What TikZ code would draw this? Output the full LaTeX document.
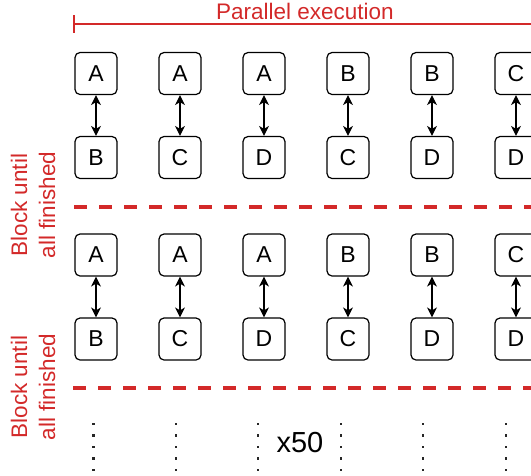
\documentclass[tikz,border=0pt]{standalone}
\usepackage{fontspec}
\setmainfont{Liberation Sans}
\usetikzlibrary{arrows.meta}
\definecolor{myred}{RGB}{211,41,41}
\begin{document}
\begin{tikzpicture}[x=1pt,y=-1pt,
  box/.style={draw=black, line width=1.2pt, rounded corners=5pt, minimum width=42pt, minimum height=42pt, inner sep=0pt, font=\fontsize{23}{27}\selectfont},
  link/.style={line width=1.2pt, {Stealth[length=10pt,width=10pt,inset=3pt]}-{Stealth[length=10pt,width=10pt,inset=3pt]}},
  sepline/.style={myred, line width=4pt, dash pattern=on 12.5pt off 12.5pt},
  redlabel/.style={text=myred, rotate=90, align=center, inner sep=0pt, font=\fontsize{22.5}{28}\selectfont},
  dotsq/.style={fill=black!85},
]
\useasboundingbox (0,0) rectangle (531,475);
\clip (0,0) rectangle (531,475);

% title and bar
\node[text=myred, inner sep=0pt, font=\fontsize{22.5}{27}\selectfont] (title) at (305,11) {Parallel execution};
\coordinate (barL) at (74,24);
\coordinate (barR) at (545,24);
\draw[myred, line width=2.6pt] (barL) -- (barR);
\draw[myred, line width=2.6pt] (74,15) -- (74,33);

% boxes
\foreach \i/\x/\a/\b in {1/96/A/B, 2/180/A/C, 3/264/A/D, 4/348/B/C, 5/432/B/D, 6/516/C/D}{
  \node[box] (t1\i) at (\x,73.5) {\a};
  \node[box] (b1\i) at (\x,157.5) {\b};
  \draw[link] (t1\i) -- (b1\i);
  \node[box] (t2\i) at (\x,255) {\a};
  \node[box] (b2\i) at (\x,339) {\b};
  \draw[link] (t2\i) -- (b2\i);
}

% separators
\coordinate (s1L) at (74,207);
\coordinate (s1R) at (545,207);
\coordinate (s2L) at (73,388);
\coordinate (s2R) at (545,388);
\draw[sepline] (s1L) -- (s1R);
\draw[sepline] (s2L) -- (s2R);

% labels
\node[redlabel] (lab1) at (33,205) {Block until\\all finished};
\node[redlabel] (lab2) at (33,387) {Block until\\all finished};

% dots
\foreach \x in {93.5,176,258,341,423,506}{
  \foreach \y in {424,435.5,447,458.5,470}{
    \fill[dotsq] (\x-1.4,\y-1.4) rectangle (\x+1.4,\y+1.4);
  }
}
\node[inner sep=0pt, font=\fontsize{29}{34}\selectfont] (rep) at (300,443) {x50};
\end{tikzpicture}
\end{document}
